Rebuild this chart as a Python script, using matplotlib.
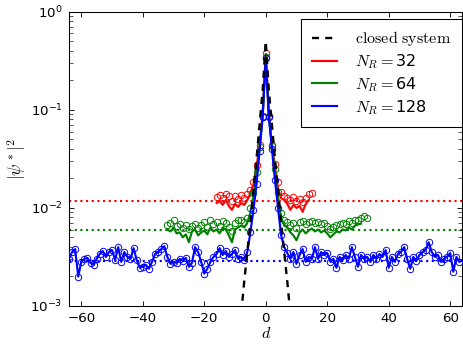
import matplotlib
matplotlib.use("Agg")
import matplotlib.pyplot as plt
import numpy as np

# ---------------- data (log10 of |psi*|^2) ----------------
closed_d = list(range(-8, 9))
closed_log = [-3.08, -2.75, -2.45, -2.15, -1.82, -1.50, -1.15, -0.80, -0.30,
              -0.80, -1.15, -1.50, -1.82, -2.15, -2.45, -2.75, -3.08]

red_d = list(range(-16, 15))
red_line_log = [-1.95, -1.93, -1.97, -1.92, -1.98, -2.02, -1.96, -1.99, -1.95, -1.97,
                -1.92, -1.85, -1.76, -1.58, -1.36, -1.04, -0.43, -1.04, -1.35, -1.58,
                -1.80, -1.90, -1.92, -1.96, -2.02, -1.97, -2.00, -1.98, -2.04, -1.96,
                -1.92]
red_mark_d = list(range(-16, 16))
red_mark_log = [-1.89, -1.87, -1.90, -1.86, -1.88, -1.93, -1.88, -1.91, -1.87, -1.90,
                -1.86, -1.82, -1.74, -1.56, -1.36, -1.06, -0.42, -1.06, -1.36, -1.55,
                -1.74, -1.84, -1.88, -1.90, -1.92, -1.89, -1.93, -1.91, -1.94, -1.90,
                -1.86, -1.85]
red_level = 0.0118

green_d = list(range(-32, 32))
green_line_log = [-2.22, -2.24, -2.20, -2.26, -2.25, -2.30, -2.27, -2.35, -2.24, -2.22,
                  -2.28, -2.25, -2.23, -2.27, -2.20, -2.24, -2.22, -2.26, -2.20, -2.22,
                  -2.28, -2.35, -2.22, -2.20, -2.18, -2.20, -2.15, -2.05, -1.88, -1.65,
                  -1.38, -1.06, -0.45, -1.05, -1.37, -1.62, -1.88, -2.10, -2.18, -2.20,
                  -2.25, -2.28, -2.33, -2.25, -2.22, -2.26, -2.23, -2.21, -2.24, -2.22,
                  -2.25, -2.23, -2.26, -2.30, -2.27, -2.24, -2.25, -2.22, -2.23, -2.20,
                  -2.22, -2.18, -2.17, -2.16]
green_mark_d = list(range(-32, 34))
green_mark_log = [-2.17, -2.15, -2.12, -2.18, -2.16, -2.20, -2.17, -2.22, -2.18, -2.16,
                  -2.20, -2.17, -2.14, -2.19, -2.12, -2.16, -2.14, -2.18, -2.13, -2.15,
                  -2.19, -2.24, -2.15, -2.12, -2.12, -2.14, -2.10, -2.00, -1.85, -1.63,
                  -1.38, -1.07, -0.46, -1.06, -1.37, -1.60, -1.84, -2.05, -2.12, -2.14,
                  -2.17, -2.15, -2.20, -2.14, -2.13, -2.16, -2.14, -2.13, -2.15, -2.14,
                  -2.16, -2.15, -2.18, -2.22, -2.19, -2.17, -2.16, -2.15, -2.16, -2.13,
                  -2.15, -2.12, -2.12, -2.10, -2.08, -2.10]
green_level = 0.0059

blue_d = list(range(-64, 64))
blue_line_log = [-2.52, -2.45, -2.42, -2.70, -2.55, -2.52, -2.51, -2.56, -2.58, -2.52,
                 -2.47, -2.44, -2.50, -2.45, -2.43, -2.53, -2.40, -2.55, -2.45, -2.50,
                 -2.52, -2.41, -2.53, -2.61, -2.60, -2.58, -2.62, -2.55, -2.47, -2.45,
                 -2.42, -2.39, -2.50, -2.57, -2.55, -2.56, -2.52, -2.54, -2.51, -2.60,
                 -2.56, -2.40, -2.45, -2.55, -2.67, -2.62, -2.55, -2.50, -2.47, -2.41,
                 -2.48, -2.44, -2.50, -2.47, -2.43, -2.52, -2.50, -2.53, -2.45, -2.25,
                 -2.02, -1.76, -1.42, -1.07, -0.47, -1.07, -1.40, -1.72, -2.00, -2.28,
                 -2.40, -2.46, -2.52, -2.45, -2.57, -2.48, -2.42, -2.55, -2.50, -2.52,
                 -2.40, -2.52, -2.45, -2.48, -2.46, -2.55, -2.52, -2.61, -2.50, -2.53,
                 -2.48, -2.52, -2.40, -2.50, -2.60, -2.48, -2.52, -2.50, -2.55, -2.48,
                 -2.52, -2.47, -2.50, -2.43, -2.61, -2.50, -2.55, -2.47, -2.45, -2.40,
                 -2.52, -2.62, -2.50, -2.54, -2.48, -2.45, -2.43, -2.35, -2.45, -2.50,
                 -2.48, -2.55, -2.52, -2.50, -2.46, -2.65, -2.50, -2.55]
blue_mark_log = blue_line_log
blue_level = 0.0029

labels = [r'$\mathrm{closed\ system}$', r'$N_R=$32', r'$N_R=$64', r'$N_R=$128']
xlim = (-64, 64)
ylim = (1e-3, 1.0)
xticks = [-60, -40, -20, 0, 20, 40, 60]

# ---------------- figure ----------------
plt.rcParams['font.family'] = ['DejaVu Sans']
plt.rcParams['font.size'] = 12

fig = plt.figure(figsize=(463 / 77, 346 / 77), dpi=77)
ax = fig.add_axes([69 / 463, 40 / 346, 393.5 / 463, 294.3 / 346])

def tolin(v):
    return [10 ** x for x in v]

# horizontal reservoir levels (dotted)
ax.axhline(red_level, color='r', ls=':', lw=2, zorder=1)
ax.axhline(green_level, color='g', ls=':', lw=2, zorder=1)
ax.axhline(blue_level, color='b', ls=':', lw=2, zorder=1)

series = [
    (red_d, red_line_log, red_mark_d, red_mark_log, 'r', labels[1], 3),
    (green_d, green_line_log, green_mark_d, green_mark_log, 'g', labels[2], 4),
    (blue_d, blue_line_log, blue_d, blue_mark_log, 'b', labels[3], 5),
]
handles = []
hc, = ax.plot(closed_d, tolin(closed_log), color='k', ls='--', lw=2.2,
              dashes=(3, 2.6), zorder=6, label=labels[0])
handles.append(hc)
for d, lv, md, mv, c, lab, z in series:
    ax.plot(md, tolin(mv), ls='none', marker='o', ms=6, mfc='none', mec=c,
            mew=0.9, zorder=z)
    h, = ax.plot(d, tolin(lv), color=c, lw=2, zorder=z, label=lab)
    handles.append(h)

ax.set_yscale('log')
ax.set_xlim(*xlim)
ax.set_ylim(*ylim)
ax.set_xticks(xticks)

ax.tick_params(which='both', direction='in', top=True, right=True,
               labelsize=12.5)
ax.tick_params(which='major', length=5, width=0.8, pad=6)
ax.minorticks_off()
ax.yaxis.set_minor_locator(matplotlib.ticker.LogLocator(base=10, subs=np.arange(2, 10)))
ax.tick_params(axis='y', which='minor', left=True, right=True, direction='in',
               length=3.3, width=0.6)
for s in ax.spines.values():
    s.set_linewidth(1.0)

ax.set_xlabel(r'$d$', fontsize=15, math_fontfamily='cm', labelpad=1)
ax.set_ylabel(r'$|\psi^*|^2$', fontsize=16, math_fontfamily='cm', labelpad=2)

leg = ax.legend(handles=handles, loc='upper right', bbox_to_anchor=(1.016, 1.0),
                fontsize=15, fancybox=False, framealpha=1, edgecolor='k',
                handlelength=1.6, handletextpad=1.1, labelspacing=0.25,
                borderpad=0.65, borderaxespad=0.45)
leg.get_frame().set_linewidth(1.0)
for t in leg.get_texts():
    t.set_math_fontfamily('cm')

fig.savefig('out.png', dpi=77)
